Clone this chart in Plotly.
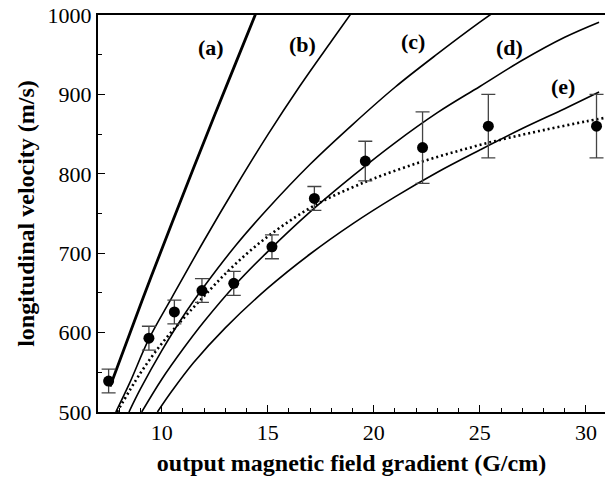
import plotly.graph_objects as go

# measured data points
grad = [7.5, 9.4, 10.6, 11.9, 13.4, 15.2, 17.2, 19.6, 22.3, 25.4, 30.5]
vel = [539, 593, 626, 653, 662, 708, 769, 816, 833, 860, 860]
err = [15, 15, 15, 15, 15, 15, 15, 25, 45, 40, 40]

# model curves (a)-(e)
a_x = [7.57, 8.5, 9.5, 10.5, 11.5, 12.5, 13.5, 14.5]
a_v = [532, 599, 670, 739, 807, 874, 940, 1006]
b_x = [7.84, 8.5, 9.4, 10.5, 12.0, 13.5, 15.0, 16.5, 18.0, 19.2]
b_v = [500, 537, 592, 645, 716, 784, 849, 910, 967, 1012]
c_x = [8.46, 9.0, 10.0, 11.0, 12.0, 13.5, 15.0, 17.0, 19.0, 21.0, 23.0, 25.0, 25.8]
c_v = [500, 529, 577, 620, 658, 710, 756, 812, 862, 909, 951, 991, 1006]
d_x = [9.06, 10.0, 11.0, 12.0, 13.5, 15.0, 17.0, 19.0, 21.0, 23.0, 25.0, 27.0, 29.0, 30.62]
d_v = [500, 541, 579, 614, 661, 702, 752, 797, 839, 877, 910, 943, 972, 991]
e_x = [9.8, 10.5, 11.5, 13.0, 15.0, 17.0, 19.0, 21.0, 23.0, 25.0, 27.0, 29.0, 30.62]
e_v = [500, 527, 562, 606, 656, 699, 737, 771, 802, 830, 857, 882, 903]
# dotted fit
f_x = [7.9, 9.0, 10.0, 11.0, 12.0, 13.0, 14.0, 15.0, 16.0, 17.0, 18.0, 19.0, 20.0, 22.0, 24.0, 26.0, 28.0, 30.0, 31.0]
f_v = [500, 549, 586, 617, 646, 674, 699, 721, 740, 757, 771, 783, 794, 813, 829, 843, 855, 866, 871]

labels = ["(a)", "(b)", "(c)", "(d)", "(e)"]
label_x = [12.32, 16.66, 21.87, 26.42, 28.92]
label_v = [959, 963, 967, 959, 910]

FONT = "Liberation Serif, Times New Roman, serif"

fig = go.Figure()
fig.add_trace(go.Scatter(x=a_x, y=a_v, mode="lines", line=dict(color="black", width=2.8, shape="spline")))
for xs, ys in [(b_x, b_v), (c_x, c_v), (d_x, d_v), (e_x, e_v)]:
    fig.add_trace(go.Scatter(x=xs, y=ys, mode="lines", line=dict(color="black", width=1.6, shape="spline")))
fig.add_trace(go.Scatter(x=f_x, y=f_v, mode="lines",
                         line=dict(color="black", width=2.6, dash="2px,3px", shape="spline")))
fig.add_trace(go.Scatter(x=grad, y=vel, mode="markers",
                         marker=dict(color="black", size=11),
                         error_y=dict(type="data", array=err, visible=True,
                                      color="#444444", thickness=1.3, width=7)))
for t, x, y in zip(labels, label_x, label_v):
    fig.add_annotation(x=x, y=y, text="<b>" + t + "</b>", showarrow=False,
                       font=dict(family=FONT, size=22, color="black"))

fig.update_layout(
    width=605, height=485,
    margin=dict(l=98, r=0, t=15, b=73),
    paper_bgcolor="white", plot_bgcolor="white",
    showlegend=False,
    font=dict(family=FONT, color="black"),
)
fig.update_xaxes(
    range=[7.0, 30.9], showgrid=False, zeroline=False,
    showline=True, linecolor="black", linewidth=1.5, mirror=True,
    ticks="inside", ticklen=7, tickwidth=1.2, tickcolor="black",
    tickvals=[10, 15, 20, 25, 30],
    minor=dict(ticks="inside", ticklen=4, tickwidth=1.2, tickcolor="black", dtick=1, tick0=0),
    tickfont=dict(family=FONT, size=22, color="black"),
    title=dict(text="<b>output magnetic field gradient (G/cm)</b>",
               font=dict(family=FONT, size=24, color="black"), standoff=10),
)
fig.update_yaxes(
    range=[500, 1000], showgrid=False, zeroline=False,
    showline=True, linecolor="black", linewidth=2,
    ticks="inside", ticklen=7, tickwidth=1.2, tickcolor="black",
    tickvals=[500, 600, 700, 800, 900, 1000],
    minor=dict(ticks="inside", ticklen=4, tickwidth=1.2, tickcolor="black", dtick=50, tick0=0),
    tickfont=dict(family=FONT, size=22, color="black"),
    title=dict(text="<b>longitudinal velocity (m/s)</b>",
               font=dict(family=FONT, size=24, color="black"), standoff=6),
)

fig.write_html("out.html", config={"displayModeBar": False},
               post_script="document.body.style.margin='0';document.body.style.overflow='hidden';")
